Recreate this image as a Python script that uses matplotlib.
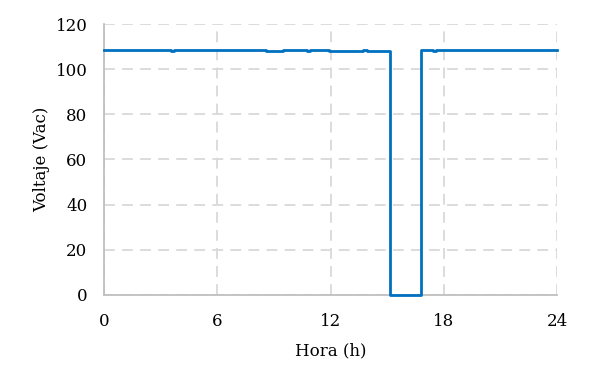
import numpy as np
import matplotlib
matplotlib.use("Agg")
import matplotlib.pyplot as plt

# voltage record over one day (step changes)
hours = [0, 3.55, 3.7, 8.6, 9.5, 10.75, 10.9, 11.9, 12.05, 13.7, 13.95,
         15.15, 16.8, 17.45, 17.6, 24]
volts = [108.4, 107.9, 108.4, 108.0, 108.3, 108.0, 108.3, 108.0, 107.9, 108.3, 107.9,
         0.0, 108.3, 108.0, 108.4, 108.4]

xticks = [0, 6, 12, 18, 24]
yticks = [0, 20, 40, 60, 80, 100, 120]

plt.rcParams['font.family'] = ['DejaVu Serif']

fig = plt.figure(figsize=(5.93, 3.86), dpi=100)
ax = fig.add_axes([0.1754, 0.2358, 0.7639, 0.7020])

ax.step(hours, volts, where='post', color='#0070C0', linewidth=2,
        zorder=4, clip_on=False)

ax.set_xlim(0, 24)
ax.set_ylim(0, 120)
ax.set_xticks(xticks)
ax.set_yticks(yticks)
ax.tick_params(axis='x', length=0, labelsize=12, pad=13)
ax.tick_params(axis='y', length=0, labelsize=12, pad=12)
ax.grid(True, color='#d9d9d9', linestyle=(0, (6, 4)), linewidth=1.3)
ax.set_axisbelow(True)

for side in ['top', 'right']:
    ax.spines[side].set_visible(False)
for side in ['left', 'bottom']:
    ax.spines[side].set_color('#bfbfbf')
    ax.spines[side].set_linewidth(1.3)

ax.set_xlabel('Hora (h)', fontsize=12, labelpad=9)
ax.set_ylabel('Voltaje (Vac)', fontsize=12, labelpad=4)

fig.savefig('out.png', dpi=100)
plt.close(fig)
